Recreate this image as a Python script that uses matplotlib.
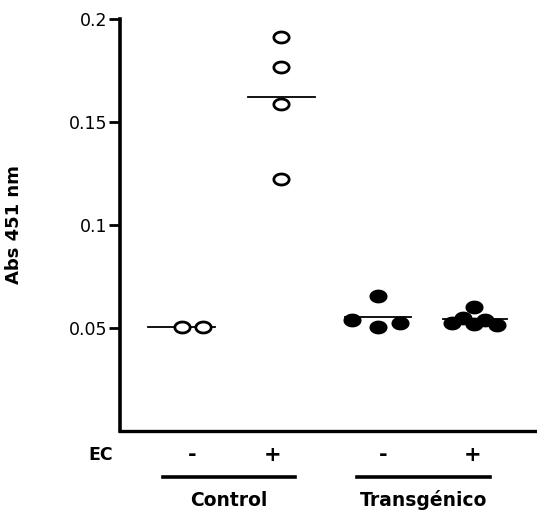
import numpy as np
import matplotlib
matplotlib.use("Agg")
import matplotlib.pyplot as plt
from matplotlib.path import Path

# Absorbance at 451 nm for each animal, by group
ctrl_minus = [0.0505, 0.0505]
ctrl_plus = [0.1913, 0.1767, 0.1587, 0.1223]
trans_minus = [0.0539, 0.0655, 0.0505, 0.0524]
trans_plus = [0.0524, 0.0549, 0.0602, 0.0519, 0.0539, 0.0515]

groups = [ctrl_minus, ctrl_plus, trans_minus, trans_plus]
filled = [False, False, True, True]
ec_labels = ["-", "+", "-", "+"]
strain_labels = ["Control", "Transgénico"]
yticks = [0.05, 0.1, 0.15, 0.2]
ytick_labels = ["0.05", "0.1", "0.15", "0.2"]

W, H = 537, 511
fig = plt.figure(figsize=(W / 100, H / 100), dpi=100)

# axes frame in pixel units
x0, x1, ytop, ybot = 120, 537, 19, 431
ax = fig.add_axes([x0 / W, (H - ybot) / H, (x1 - x0) / W, (ybot - ytop) / H])
ax.set_xlim(x0, x1)
ax.set_ylim(0, 0.2)

# horizontal layout of the groups (pixel-based x axis)
centers = [192, 281, 378, 475]
jitter = [[-10, 11], [0, 0, 0, 0], [-26, 0, 0, 22], [-23, -12, -1, -1, 10, 22]]
mean_span = [(148, 215), (248, 315), (345, 411), (443, 507)]
label_x = [192, 273, 383, 473]

# slightly flattened circle marker
t = np.linspace(0, 2 * np.pi, 60)
ellipse = Path(np.column_stack([np.cos(t), 0.72 * np.sin(t)]), closed=True)

for vals, fill, c, dx, span in zip(groups, filled, centers, jitter, mean_span):
    xs = [c + d for d in dx]
    ax.plot(span, [np.mean(vals)] * 2, color="black", lw=1.3, zorder=2)
    ax.plot(xs, vals, linestyle="none", marker=ellipse, markersize=11,
            markerfacecolor="black" if fill else "white",
            markeredgecolor="black", markeredgewidth=2.0, zorder=3)

for s in ["top", "right"]:
    ax.spines[s].set_visible(False)
ax.spines["left"].set_linewidth(2.6)
ax.spines["bottom"].set_linewidth(2.4)
ax.set_xticks([])
ax.set_yticks(yticks)
ax.set_yticklabels(ytick_labels, fontsize=12.5, family="DejaVu Sans")
ax.tick_params(axis="y", length=8, width=2, pad=1)

ax.set_ylabel("Abs 451 nm", family="DejaVu Sans",
              fontweight="bold", fontsize=13, labelpad=33)


def ftext(px, py, s, **kw):
    fig.text(px / W, 1 - py / H, s, ha="center", va="center", **kw)


ftext(101, 455, "EC", fontsize=12.5, fontweight="bold")
for lx, lab in zip(label_x, ec_labels):
    ftext(lx, 455, lab, fontsize=15, fontweight="heavy")

underlines = [(163, 295), (357, 490)]
for (a, b), name in zip(underlines, strain_labels):
    fig.add_artist(plt.Line2D([a / W, b / W], [1 - 477 / H] * 2,
                              color="black", lw=2.6, transform=fig.transFigure))
    ftext((a + b) / 2, 500, name, fontsize=13.5, fontweight="bold")

fig.savefig("out.png", dpi=100)
